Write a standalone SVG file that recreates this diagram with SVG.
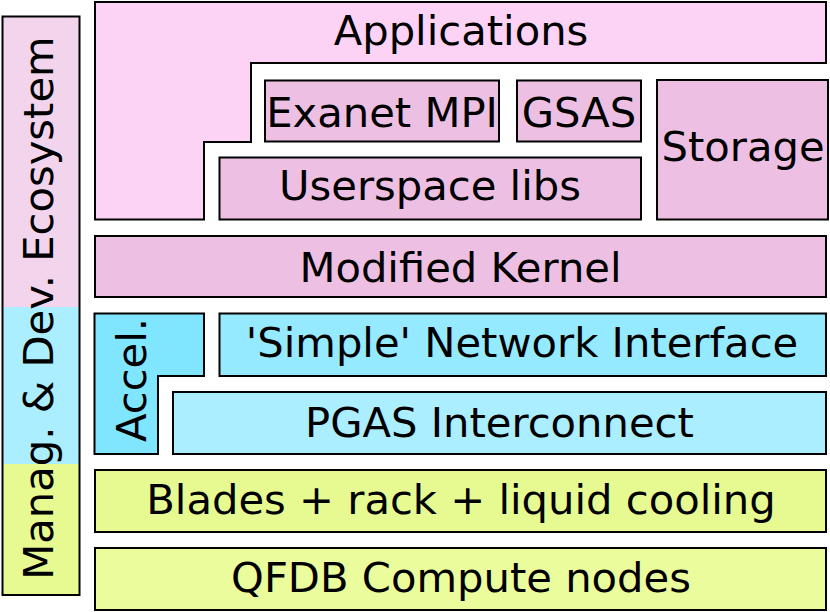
<svg xmlns="http://www.w3.org/2000/svg" width="830" height="612" viewBox="0 0 830 612">
<style>
.b{stroke:#000;stroke-width:2}
.t{font-family:"DejaVu Sans",sans-serif;font-size:41.7px;fill:#000;text-anchor:middle}
</style>
<rect width="830" height="612" fill="#fff"/>
<g id="ecosystem">
<rect x="2.5" y="16.5" width="77" height="291" fill="#f2d5ec"/>
<rect x="2.5" y="307" width="77" height="157" fill="#aaeeff"/>
<rect x="2.5" y="464" width="77" height="131" fill="#e6fa91"/>
<rect x="2.5" y="16.5" width="77" height="578.5" fill="none" class="b"/>
<text class="t" transform="translate(53,308) rotate(-90)">Manag. &amp; Dev. Ecosystem</text>
</g>
<g id="applications">
<path d="M95,2 H826 V63 H251 V142 H204 V219.5 H95 Z" fill="#fcd3f4" class="b"/>
<text class="t" x="461" y="45">Applications</text>
</g>
<g id="exanet">
<rect x="265" y="80.5" width="234" height="61" fill="#edc0e3" class="b"/>
<text class="t" x="382" y="127">Exanet MPI</text>
</g>
<g id="gsas">
<rect x="517" y="80.5" width="124" height="61" fill="#edc0e3" class="b"/>
<text class="t" x="579" y="127">GSAS</text>
</g>
<g id="storage">
<rect x="657" y="80" width="171" height="139.5" fill="#edc0e3" class="b"/>
<text class="t" x="743" y="161">Storage</text>
</g>
<g id="userspace">
<rect x="219.5" y="157.5" width="421.5" height="62" fill="#edc0e3" class="b"/>
<text class="t" x="430" y="200">Userspace libs</text>
</g>
<g id="kernel">
<rect x="95" y="236" width="731" height="61" fill="#edc0e3" class="b"/>
<text class="t" x="460.5" y="282">Modified Kernel</text>
</g>
<g id="accel">
<path d="M94.5,313.5 H204 V376 H158 V454 H94.5 Z" fill="#80e5ff" class="b"/>
<text class="t" transform="translate(146,380) rotate(-90)">Accel.</text>
</g>
<g id="simple-ni">
<rect x="219.5" y="313.5" width="606.5" height="62.5" fill="#96eaff" class="b"/>
<text class="t" x="522" y="357">'Simple' Network Interface</text>
</g>
<g id="pgas">
<rect x="173" y="392" width="653" height="62" fill="#aaeeff" class="b"/>
<text class="t" x="499.5" y="437">PGAS Interconnect</text>
</g>
<g id="blades">
<rect x="95" y="470" width="731" height="62" fill="#e6fa91" class="b"/>
<text class="t" x="461" y="514">Blades + rack + liquid cooling</text>
</g>
<g id="qfdb">
<rect x="95" y="548" width="731" height="62" fill="#ebfc9c" class="b"/>
<text class="t" x="461" y="592">QFDB Compute nodes</text>
</g>
<g id="connectors"/>
</svg>
